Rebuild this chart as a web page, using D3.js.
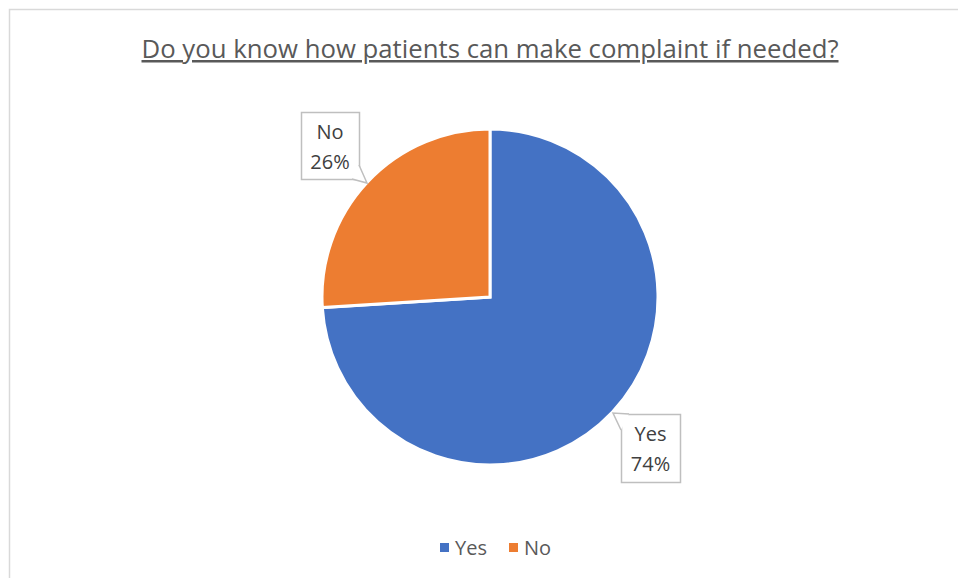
<!DOCTYPE html>
<html><head><meta charset="utf-8">
<script src="https://cdn.jsdelivr.net/npm/d3@7"></script>
<style>body{margin:0;background:#fff;} svg{display:block;font-family:"Open Sans","Noto Sans",sans-serif;}</style>
</head><body>
<svg id="c" width="958" height="578"></svg>
<script>
const categories = ["Yes", "No"];
const values = [74, 26];
const colors = ["#4472C4", "#ED7D31"];
const title = "Do you know how patients can make complaint if needed?";

const svg = d3.select("#c");
svg.append("rect").attr("x",9.5).attr("y",9.5).attr("width",970).attr("height",600)
  .attr("fill","#fff").attr("stroke","#d9d9d9").attr("stroke-width",1.5);

svg.append("text").attr("x",490).attr("y",58).attr("text-anchor","middle")
  .attr("font-size",25).attr("fill","#595959").attr("text-decoration","underline")
  .attr("textLength",697).attr("lengthAdjust","spacingAndGlyphs").text(title);

const cx=490, cy=297, r=168;
const pie = d3.pie().sort(null).value(d=>d.v);
const data = pie(categories.map((c,i)=>({c, v:values[i], col:colors[i]})));
const arc = d3.arc().innerRadius(0).outerRadius(r);
const g = svg.append("g").attr("transform",`translate(${cx},${cy})`);
g.selectAll("path").data(data).join("path").attr("d",arc).attr("fill",d=>d.data.col)
  .attr("stroke","#fff").attr("stroke-width",3).attr("stroke-linejoin","miter");

// callout labels
const labels = [
  {i:1, box:[301,112,58,67], tip:[367,183], base:[[352,179],[359,165]]},
  {i:0, box:[621,414,59,68], tip:[613,413], base:[[621,430],[629,414]]}
];
labels.forEach(L=>{
  const d = data[L.i];
  const [x,y,w,h]=L.box;
  const lg = svg.append("g");
  lg.append("rect").attr("x",x+0.5).attr("y",y+0.5).attr("width",w).attr("height",h)
    .attr("fill","#fff").attr("stroke","#bfbfbf").attr("stroke-width",1.5);
  lg.append("path").attr("d",`M${L.base[0][0]},${L.base[0][1]}L${L.tip[0]},${L.tip[1]}L${L.base[1][0]},${L.base[1][1]}`)
    .attr("fill","#fff").attr("stroke","#bfbfbf").attr("stroke-width",1.5);
  const pct = Math.round(d.data.v/d3.sum(values)*100)+"%";
  lg.append("text").attr("x",x+w/2).attr("y",y+27).attr("text-anchor","middle")
    .attr("font-size",20).attr("fill","#404040").text(d.data.c);
  lg.append("text").attr("x",x+w/2).attr("y",y+57).attr("text-anchor","middle")
    .attr("font-size",20).attr("fill","#404040").text(pct);
});

// legend
const leg = svg.append("g");
const lx=[440,509];
categories.forEach((c,i)=>{
  leg.append("rect").attr("x",lx[i]).attr("y",543).attr("width",9).attr("height",9).attr("fill",colors[i]);
  leg.append("text").attr("x",lx[i]+15).attr("y",555).attr("font-size",20).attr("fill","#595959").text(c);
});
</script>
</body></html>
